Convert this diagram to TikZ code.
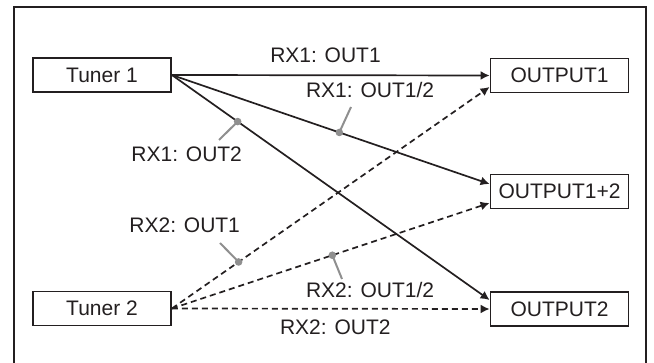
\documentclass[tikz,border=0pt]{standalone}
\usepackage{fontspec}
\setmainfont{Liberation Sans}
\usetikzlibrary{arrows.meta}
\definecolor{ink}{HTML}{231F20}
\definecolor{callgray}{HTML}{8F8F8F}

\begin{document}
\begin{tikzpicture}[x=0.5pt, y=-0.5pt,
	every node/.style={font=\fontsize{10.5}{12}\selectfont, text=ink},
	>={Latex[length=4.5pt,width=4.5pt]},
	box/.style={draw=ink, line width=0.9pt, minimum width=69pt, minimum height=17pt, inner sep=0pt},
	feed/.style={->, draw=ink, line width=0.85pt},
	alt/.style={feed, dash pattern=on 3pt off 2pt},
	callout/.style={draw=callgray, line width=1pt},
	pin dot/.style={fill=callgray}]
	\useasboundingbox (0,0) rectangle (654,363);
	\draw[ink, line width=1.2pt] (14,363) -- (14,7) -- (646,7) -- (646,363);
	% sources and outputs
	\node[box] (tuner1) at (102,75) {Tuner 1};
	\node[box] (tuner2) at (102,308.5) {Tuner 2};
	\node[box] (out1) at (559.5,75.5) {OUTPUT1};
	\node[box] (out12) at (559.5,191.5) {OUTPUT1+2};
	\node[box] (out2) at (559.5,309) {OUTPUT2};
	% routes
	\draw[feed] (tuner1.east) -- (out1.west);
	\draw[feed] (tuner1.east) -- coordinate[pos=0.527] (k2) ([yshift=3.75pt]out12.west);
	\draw[feed] (tuner1.east) -- coordinate[pos=0.207] (k1) ([yshift=4.5pt]out2.west);
	\draw[alt] (tuner2.east) -- coordinate[pos=0.21] (k3) ([yshift=-5.75pt]out1.west);
	\draw[alt] (tuner2.east) -- coordinate[pos=0.505] (k4) ([yshift=-5.75pt]out12.west);
	\draw[alt] (tuner2.east) -- (out2.west);
	% labels
	\node[anchor=base] (rx1o1) at (325.5,63) {RX1: OUT1};
	\node[anchor=base west] (rx1o12) at (299,98) {RX1: OUT1/2};
	\node[anchor=base east] (rx1o2) at (249,162) {RX1: OUT2};
	\node[anchor=base east] (rx2o1) at (247,233) {RX2: OUT1};
	\node[anchor=base west] (rx2o12) at (299,298) {RX2: OUT1/2};
	\node[anchor=base west] (rx2o2) at (273,335) {RX2: OUT2};
	% callouts
	\coordinate (e1) at (219,140);
	\coordinate (e2) at (351,107);
	\coordinate (e3) at (220,243);
	\coordinate (e4) at (342,279);
	\foreach \i in {1,...,4} {
		\draw[callout] (k\i) -- (e\i);
		\fill[pin dot] (k\i) circle[radius=1.9pt];
	}
\end{tikzpicture}
\end{document}
